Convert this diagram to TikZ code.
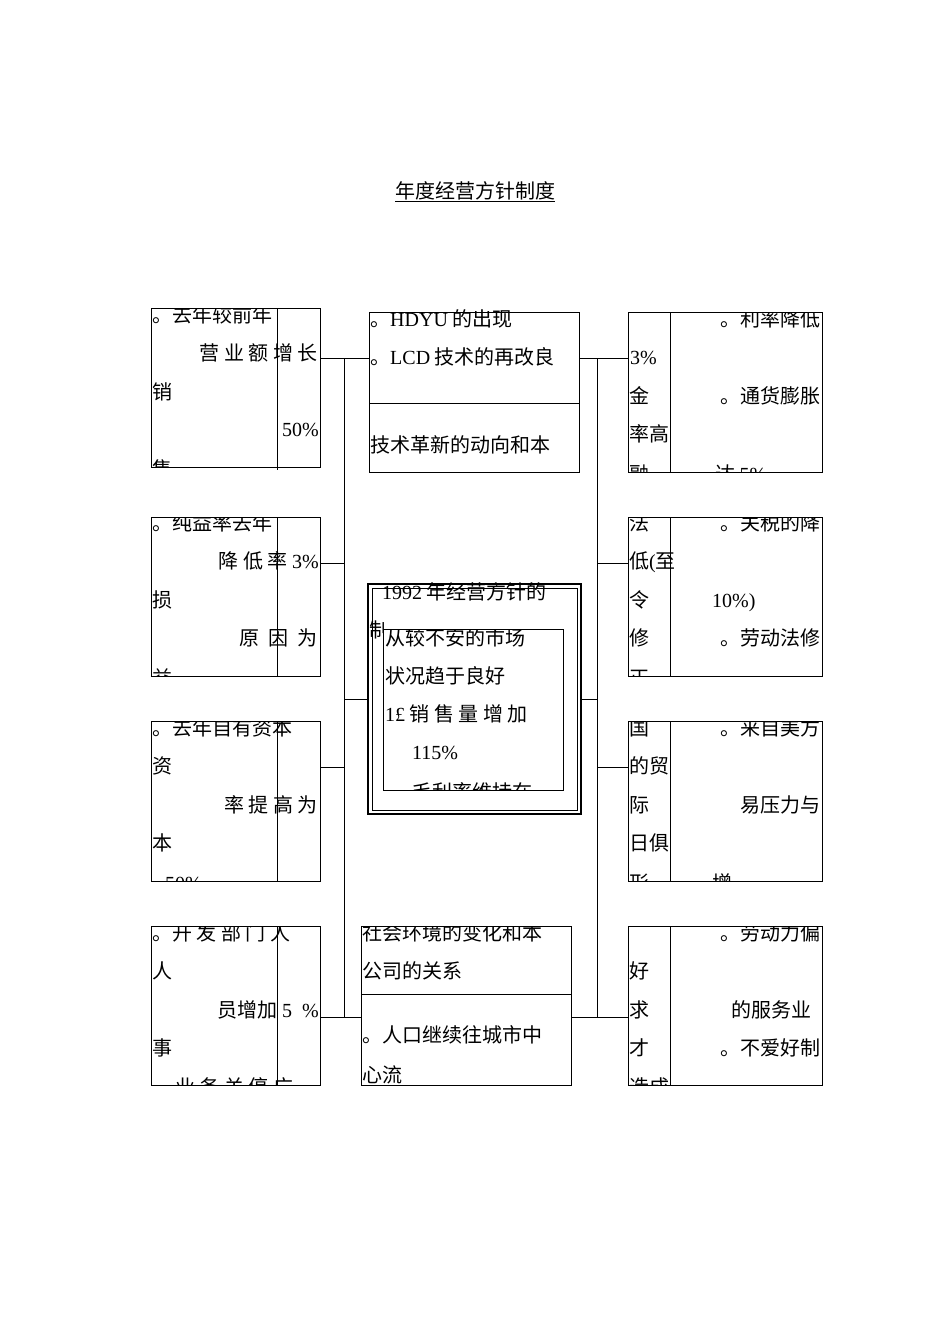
\documentclass[tikz,border=0pt]{standalone}
\usepackage{fontspec}
\setmainfont{Noto Sans CJK SC}
\newfontfamily\lat{Liberation Serif}
\tikzset{
 t/.style={anchor=mid west, inner sep=0pt, font=\fontsize{20}{20}\selectfont},
 tr/.style={anchor=mid east, inner sep=0pt, font=\fontsize{20}{20}\selectfont},
 bx/.style={draw, line width=1pt},
 ln/.style={draw, line width=0.8pt},
}
\begin{document}
\begin{tikzpicture}[x=1pt,y=-1pt]
\useasboundingbox (0,0) rectangle (950,1344);
\node[inner sep=0pt, font=\fontsize{20}{20}\selectfont] (title) at (475,192) {\underline{年度经营方针制度}};
\draw[bx] (151,308) rectangle (320,467); \draw[ln] (277,308) -- (277,470);
\begin{scope}\clip (151,308) rectangle (320,467);
\node[t] (l1a) at (152,320) {。去年较前年};
\node[tr] (l1b) at (318,358) {营 业 额 增 长};
\node[t] (l1c) at (152,397) {销};
\node[tr] (l1d) at (319,434) {\lat 50\%};
\node[t] (l1e) at (152,474) {售};
\end{scope}
\draw[bx] (151,517) rectangle (320,676); \draw[ln] (277,517) -- (277,676);
\begin{scope}\clip (151,517) rectangle (320,676);
\node[t] (l2a) at (152,528) {。纯益率去年};
\node[tr] (l2b) at (319,566) {降 低 率 \lat 3\%};
\node[t] (l2c) at (152,605) {损};
\node[tr] (l2d) at (318,643) {原\ \ 因\ \ 为};
\node[t] (l2e) at (152,683) {益};
\end{scope}
\draw[bx] (151,721) rectangle (320,881); \draw[ln] (277,721) -- (277,881);
\begin{scope}\clip (151,721) rectangle (320,881);
\node[t] (l3a) at (152,733) {。去年自有资本};
\node[t] (l3b) at (152,771) {资};
\node[tr] (l3c) at (318,810) {率 提 高 为};
\node[t] (l3d) at (152,848) {本};
\node[t] (l3e) at (165,888) {\lat 50\%};
\end{scope}
\draw[bx] (151,926) rectangle (320,1085); \draw[ln] (277,926) -- (277,1085);
\begin{scope}\clip (151,926) rectangle (320,1085);
\node[t] (l4a) at (152,938) {。开 发 部 门 人};
\node[t] (l4b) at (152,976) {人};
\node[tr] (l4c) at (319,1015) {员增加 \lat 5\ \ \%};
\node[t] (l4d) at (152,1053) {事};
\node[t] (l4e) at (175,1092) {业 务 关 停 广};
\end{scope}
\draw[bx] (369,312) rectangle (579,472); \draw[ln] (369,403) -- (579,403);
\node[t] (m1a) at (370,324) {。{\lat HDYU} 的出现};
\node[t] (m1b) at (370,362) {。{\lat LCD} 技术的再改良};
\node[t] (m1c) at (370,450) {技术革新的动向和本};
\draw[line width=2pt] (368,584) rectangle (581,814);
\draw[line width=0.6pt] (372,588) rectangle (577,810);
\node[t] (c1) at (382,597) {{\lat 1992} 年经营方针的};
\begin{scope}\clip (368,584) rectangle (383,660);
\node[t] (c2) at (369,635) {制定};
\end{scope}
\draw[ln] (383,629) rectangle (563,790);
\begin{scope}\clip (383,629) rectangle (563,790);
\node[t] (c3) at (385,643) {从较不安的市场};
\node[t] (c4) at (385,681) {状况趋于良好};
\node[t] (c5) at (385,719) {{\lat 1£} 销 售 量 增 加};
\node[t] (c6) at (412,757) {\lat 115\%};
\node[t] (c7) at (412,797) {毛利率维持在};
\end{scope}
\draw[bx] (361,926) rectangle (571,1085); \draw[ln] (361,994) -- (571,994);
\begin{scope}\clip (361,926) rectangle (571,1085);
\node[t] (b1) at (362,938) {社会环境的变化和本};
\node[t] (b2) at (362,976) {公司的关系};
\node[t] (b3) at (362,1040) {。人口继续往城市中};
\node[t] (b4) at (362,1080) {心流};
\end{scope}
\draw[bx] (628,312) rectangle (822,472); \draw[ln] (670,312) -- (670,472);
\begin{scope}\clip (628,312) rectangle (822,472);
\node[tr] (r1a) at (821,324) {。利率降低};
\node[t] (r1b) at (630,362) {\lat 3\%};
\node[t] (r1c) at (629,401) {金};
\node[tr] (r1d) at (821,401) {。通货膨胀};
\node[t] (r1e) at (629,439) {率高};
\node[t] (r1f) at (629,479) {融};
\node[t] (r1g) at (715,479) {达 {\lat 5\%}};
\end{scope}
\draw[bx] (628,517) rectangle (822,676); \draw[ln] (670,517) -- (670,676);
\begin{scope}\clip (628,517) rectangle (822,676);
\node[t] (r2a) at (629,528) {法};
\node[tr] (r2b) at (821,528) {。关税的降};
\node[t] (r2c) at (629,566) {低{\lat (}至};
\node[t] (r2d) at (629,605) {令};
\node[t] (r2e) at (712,605) {\lat 10\%)};
\node[t] (r2f) at (629,643) {修};
\node[tr] (r2g) at (821,643) {。劳动法修};
\node[t] (r2h) at (629,683) {正};
\end{scope}
\draw[bx] (628,721) rectangle (822,881); \draw[ln] (670,721) -- (670,881);
\begin{scope}\clip (628,721) rectangle (822,881);
\node[t] (r3a) at (629,733) {国};
\node[tr] (r3b) at (821,733) {。来自美方};
\node[t] (r3c) at (629,771) {的贸};
\node[t] (r3d) at (629,810) {际};
\node[tr] (r3e) at (821,810) {易压力与};
\node[t] (r3f) at (629,848) {日俱};
\node[t] (r3g) at (629,888) {形};
\node[t] (r3h) at (712,888) {增};
\end{scope}
\draw[bx] (628,926) rectangle (822,1085); \draw[ln] (670,926) -- (670,1085);
\begin{scope}\clip (628,926) rectangle (822,1085);
\node[tr] (r4a) at (821,938) {。劳动力偏};
\node[t] (r4b) at (629,976) {好};
\node[t] (r4c) at (629,1015) {求};
\node[tr] (r4d) at (812,1015) {的服务业};
\node[t] (r4e) at (629,1053) {才};
\node[tr] (r4f) at (821,1053) {。不爱好制};
\node[t] (r4g) at (629,1092) {造成};
\end{scope}
\coordinate (lb1) at (344,358); \coordinate (lb2) at (344,1017);
\coordinate (rb1) at (597,358); \coordinate (rb2) at (597,1017);
\draw[ln] (lb1) -- (lb2);
\draw[ln] (rb1) -- (rb2);
\draw[ln] (320,358) -- (369,358);
\draw[ln] (320,563) -- (344,563);
\draw[ln] (344,699) -- (368,699);
\draw[ln] (320,767) -- (344,767);
\draw[ln] (320,1017) -- (361,1017);
\draw[ln] (579,358) -- (628,358);
\draw[ln] (597,563) -- (628,563);
\draw[ln] (581,699) -- (597,699);
\draw[ln] (597,767) -- (628,767);
\draw[ln] (571,1017) -- (628,1017);
\end{tikzpicture}
\end{document}
